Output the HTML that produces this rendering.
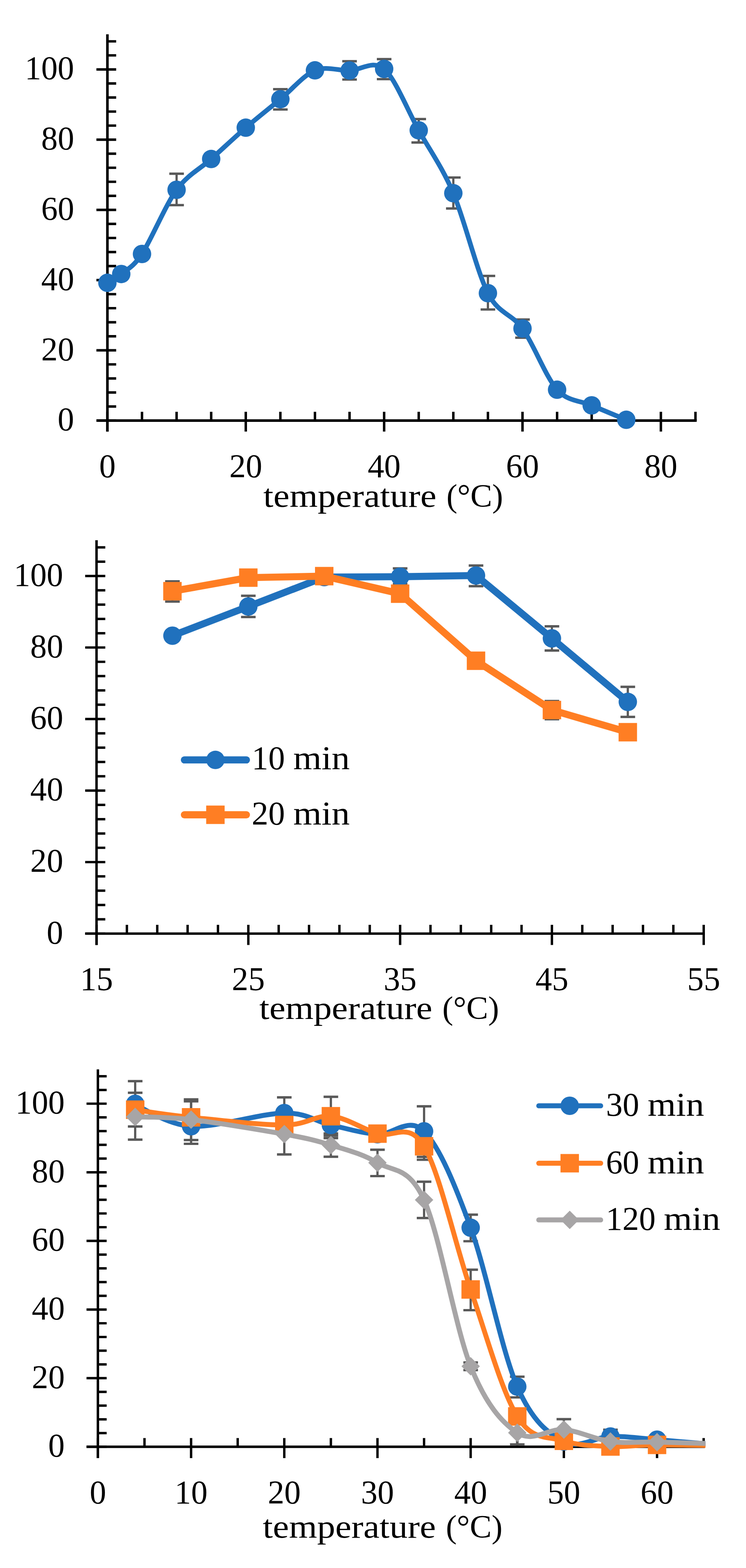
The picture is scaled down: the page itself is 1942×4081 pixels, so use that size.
<!DOCTYPE html>
<html lang="en">
<head>
<meta charset="utf-8">
<title>Temperature dependence charts</title>
<style>
html,body{margin:0;padding:0;background:#fff;}
body{width:1942px;height:4081px;overflow:hidden;}
svg{display:block;}
text{white-space:pre;}
</style>
</head>
<body>
<svg width="1942" height="4081" viewBox="0 0 1942 4081">
<rect width="1942" height="4081" fill="#fff"/>
<g id="chart1">
<g stroke="#000" fill="none" stroke-width="6.7">
<path d="M279.6,89.31 V1123.2"/>
<path d="M251,1094.6 H1813.65"/>
</g>
<g stroke="#000" fill="none" stroke-width="6.4">
<path d="M251,1094.6H302.4M279.6,1058.04H302.4M279.6,1021.49H302.4M279.6,984.93H302.4M279.6,948.38H302.4M251,911.82H302.4M279.6,875.26H302.4M279.6,838.71H302.4M279.6,802.15H302.4M279.6,765.6H302.4M251,729.04H302.4M279.6,692.48H302.4M279.6,655.93H302.4M279.6,619.37H302.4M279.6,582.82H302.4M251,546.26H302.4M279.6,509.7H302.4M279.6,473.15H302.4M279.6,436.59H302.4M279.6,400.04H302.4M251,363.48H302.4M279.6,326.92H302.4M279.6,290.37H302.4M279.6,253.81H302.4M279.6,217.26H302.4M251,180.7H302.4M279.6,144.14H302.4M279.6,107.59H302.4M279.6,1071.8V1123.2M369.65,1071.8V1094.6M459.7,1071.8V1094.6M549.75,1071.8V1094.6M639.8,1071.8V1123.2M729.85,1071.8V1094.6M819.9,1071.8V1094.6M909.95,1071.8V1094.6M1000,1071.8V1123.2M1090.05,1071.8V1094.6M1180.1,1071.8V1094.6M1270.15,1071.8V1094.6M1360.2,1071.8V1123.2M1450.25,1071.8V1094.6M1540.3,1071.8V1094.6M1630.35,1071.8V1094.6M1720.4,1071.8V1123.2M1810.45,1071.8V1094.6"/>
</g>
<g font-family='"Liberation Serif", serif' font-size="87.5" fill="#000">
<text x="193" y="1120.3" text-anchor="end" textLength="42.88" lengthAdjust="spacingAndGlyphs">0</text>
<text x="193" y="937.52" text-anchor="end" textLength="85.75" lengthAdjust="spacingAndGlyphs">20</text>
<text x="193" y="754.74" text-anchor="end" textLength="85.75" lengthAdjust="spacingAndGlyphs">40</text>
<text x="193" y="571.96" text-anchor="end" textLength="85.75" lengthAdjust="spacingAndGlyphs">60</text>
<text x="193" y="389.18" text-anchor="end" textLength="85.75" lengthAdjust="spacingAndGlyphs">80</text>
<text x="193" y="206.4" text-anchor="end" textLength="128.62" lengthAdjust="spacingAndGlyphs">100</text>
<text x="279.6" y="1241.8" text-anchor="middle" textLength="42.88" lengthAdjust="spacingAndGlyphs">0</text>
<text x="639.8" y="1241.8" text-anchor="middle" textLength="85.75" lengthAdjust="spacingAndGlyphs">20</text>
<text x="1000" y="1241.8" text-anchor="middle" textLength="85.75" lengthAdjust="spacingAndGlyphs">40</text>
<text x="1360.2" y="1241.8" text-anchor="middle" textLength="85.75" lengthAdjust="spacingAndGlyphs">60</text>
<text x="1720.4" y="1241.8" text-anchor="middle" textLength="85.75" lengthAdjust="spacingAndGlyphs">80</text>
<text y="1319" font-size="85"><tspan x="685.6" textLength="474" lengthAdjust="spacingAndGlyphs">temperature </tspan><tspan x="1162.2" textLength="147.5" lengthAdjust="spacingAndGlyphs">(°C)</tspan></text>
</g>
<path d="M459.7,452.2 V533.8" stroke="#595959" stroke-width="5.8" fill="none"/><path d="M440.7,452.2 H478.7 M440.7,533.8 H478.7" stroke="#595959" stroke-width="6.2" fill="none"/>
<path d="M729.85,232.1 V285" stroke="#595959" stroke-width="5.8" fill="none"/><path d="M710.85,232.1 H748.85 M710.85,285 H748.85" stroke="#595959" stroke-width="6.2" fill="none"/>
<path d="M909.95,159.3 V207" stroke="#595959" stroke-width="5.8" fill="none"/><path d="M890.95,159.3 H928.95 M890.95,207 H928.95" stroke="#595959" stroke-width="6.2" fill="none"/>
<path d="M1000,153.8 V206" stroke="#595959" stroke-width="5.8" fill="none"/><path d="M981,153.8 H1019 M981,206 H1019" stroke="#595959" stroke-width="6.2" fill="none"/>
<path d="M1090.05,309.8 V370.8" stroke="#595959" stroke-width="5.8" fill="none"/><path d="M1071.05,309.8 H1109.05 M1071.05,370.8 H1109.05" stroke="#595959" stroke-width="6.2" fill="none"/>
<path d="M1180.1,462 V542.6" stroke="#595959" stroke-width="5.8" fill="none"/><path d="M1161.1,462 H1199.1 M1161.1,542.6 H1199.1" stroke="#595959" stroke-width="6.2" fill="none"/>
<path d="M1270.15,718.1 V805.5" stroke="#595959" stroke-width="5.8" fill="none"/><path d="M1251.15,718.1 H1289.15 M1251.15,805.5 H1289.15" stroke="#595959" stroke-width="6.2" fill="none"/>
<path d="M1360.2,831.6 V878.9" stroke="#595959" stroke-width="5.8" fill="none"/><path d="M1341.2,831.6 H1379.2 M1341.2,878.9 H1379.2" stroke="#595959" stroke-width="6.2" fill="none"/>
<path d="M279.6,736.1C279.6,736.1 301.39,725.07 315.62,713.2C329.85,701.33 346.89,695.63 369.65,661C392.41,626.37 431.24,533.06 459.7,494C488.16,454.94 521.29,439.35 549.75,413.8C578.21,388.25 611.34,356.88 639.8,332.3C668.26,307.72 701.39,281.77 729.85,258.2C758.31,234.63 791.44,194.89 819.9,183.1C848.36,171.31 881.49,184.2 909.95,183.6C938.41,183 971.54,154.72 1000,179.3C1028.46,203.88 1061.59,288.09 1090.05,339.2C1118.51,390.31 1151.64,435.84 1180.1,502.8C1208.56,569.76 1241.69,707.35 1270.15,763C1298.61,818.65 1331.74,815.29 1360.2,855C1388.66,894.71 1421.79,982.7 1450.25,1014.3C1478.71,1045.9 1511.84,1042.63 1540.3,1055C1568.76,1067.37 1630.35,1092.6 1630.35,1092.6" stroke="#2071BD" stroke-width="12.3" fill="none" stroke-linejoin="round" stroke-linecap="round"/>
<circle cx="279.6" cy="736.1" r="24" fill="#2071BD"/>
<circle cx="315.62" cy="713.2" r="24" fill="#2071BD"/>
<circle cx="369.65" cy="661" r="24" fill="#2071BD"/>
<circle cx="459.7" cy="494" r="24" fill="#2071BD"/>
<circle cx="549.75" cy="413.8" r="24" fill="#2071BD"/>
<circle cx="639.8" cy="332.3" r="24" fill="#2071BD"/>
<circle cx="729.85" cy="258.2" r="24" fill="#2071BD"/>
<circle cx="819.9" cy="183.1" r="24" fill="#2071BD"/>
<circle cx="909.95" cy="183.6" r="24" fill="#2071BD"/>
<circle cx="1000" cy="179.3" r="24" fill="#2071BD"/>
<circle cx="1090.05" cy="339.2" r="24" fill="#2071BD"/>
<circle cx="1180.1" cy="502.8" r="24" fill="#2071BD"/>
<circle cx="1270.15" cy="763" r="24" fill="#2071BD"/>
<circle cx="1360.2" cy="855" r="24" fill="#2071BD"/>
<circle cx="1450.25" cy="1014.3" r="24" fill="#2071BD"/>
<circle cx="1540.3" cy="1055" r="24" fill="#2071BD"/>
<circle cx="1630.35" cy="1092.6" r="24" fill="#2071BD"/>
</g>
<g id="chart2">
<g stroke="#000" fill="none" stroke-width="6.4">
<path d="M251.3,1406.02 V2459.5"/>
<path d="M221.7,2429.9 H1835"/>
</g>
<g stroke="#000" fill="none" stroke-width="6.2">
<path d="M221.7,2429.9H274.1M251.3,2392.67H274.1M251.3,2355.44H274.1M251.3,2318.2H274.1M251.3,2280.97H274.1M221.7,2243.74H274.1M251.3,2206.51H274.1M251.3,2169.28H274.1M251.3,2132.04H274.1M251.3,2094.81H274.1M221.7,2057.58H274.1M251.3,2020.35H274.1M251.3,1983.12H274.1M251.3,1945.88H274.1M251.3,1908.65H274.1M221.7,1871.42H274.1M251.3,1834.19H274.1M251.3,1796.96H274.1M251.3,1759.72H274.1M251.3,1722.49H274.1M221.7,1685.26H274.1M251.3,1648.03H274.1M251.3,1610.8H274.1M251.3,1573.56H274.1M251.3,1536.33H274.1M221.7,1499.1H274.1M251.3,1461.87H274.1M251.3,1424.64H274.1M251.3,2407.1V2459.5M330.33,2407.1V2429.9M409.36,2407.1V2429.9M488.39,2407.1V2429.9M567.42,2407.1V2429.9M646.45,2407.1V2459.5M725.48,2407.1V2429.9M804.51,2407.1V2429.9M883.54,2407.1V2429.9M962.57,2407.1V2429.9M1041.6,2407.1V2459.5M1120.63,2407.1V2429.9M1199.66,2407.1V2429.9M1278.69,2407.1V2429.9M1357.72,2407.1V2429.9M1436.75,2407.1V2459.5M1515.78,2407.1V2429.9M1594.81,2407.1V2429.9M1673.84,2407.1V2429.9M1752.87,2407.1V2429.9M1831.9,2407.1V2459.5"/>
</g>
<g font-family='"Liberation Serif", serif' font-size="87.5" fill="#000">
<text x="164.5" y="2455.6" text-anchor="end" textLength="42.88" lengthAdjust="spacingAndGlyphs">0</text>
<text x="164.5" y="2269.44" text-anchor="end" textLength="85.75" lengthAdjust="spacingAndGlyphs">20</text>
<text x="164.5" y="2083.28" text-anchor="end" textLength="85.75" lengthAdjust="spacingAndGlyphs">40</text>
<text x="164.5" y="1897.12" text-anchor="end" textLength="85.75" lengthAdjust="spacingAndGlyphs">60</text>
<text x="164.5" y="1710.96" text-anchor="end" textLength="85.75" lengthAdjust="spacingAndGlyphs">80</text>
<text x="164.5" y="1524.8" text-anchor="end" textLength="128.62" lengthAdjust="spacingAndGlyphs">100</text>
<text x="251.3" y="2577.3" text-anchor="middle" textLength="85.75" lengthAdjust="spacingAndGlyphs">15</text>
<text x="646.45" y="2577.3" text-anchor="middle" textLength="85.75" lengthAdjust="spacingAndGlyphs">25</text>
<text x="1041.6" y="2577.3" text-anchor="middle" textLength="85.75" lengthAdjust="spacingAndGlyphs">35</text>
<text x="1436.75" y="2577.3" text-anchor="middle" textLength="85.75" lengthAdjust="spacingAndGlyphs">45</text>
<text x="1831.9" y="2577.3" text-anchor="middle" textLength="85.75" lengthAdjust="spacingAndGlyphs">55</text>
<text y="2652" font-size="85"><tspan x="675" textLength="474" lengthAdjust="spacingAndGlyphs">temperature </tspan><tspan x="1151.6" textLength="147.5" lengthAdjust="spacingAndGlyphs">(°C)</tspan></text>
</g>
<path d="M646.45,1550.7 V1605.9" stroke="#595959" stroke-width="5.8" fill="none"/><path d="M627.45,1550.7 H665.45 M627.45,1605.9 H665.45" stroke="#595959" stroke-width="6.2" fill="none"/>
<path d="M844.03,1485 V1519" stroke="#595959" stroke-width="5.8" fill="none"/><path d="M825.03,1485 H863.03 M825.03,1519 H863.03" stroke="#595959" stroke-width="6.2" fill="none"/>
<path d="M1041.6,1479.3 V1520" stroke="#595959" stroke-width="5.8" fill="none"/><path d="M1022.6,1479.3 H1060.6 M1022.6,1520 H1060.6" stroke="#595959" stroke-width="6.2" fill="none"/>
<path d="M1239.17,1471.8 V1525.6" stroke="#595959" stroke-width="5.8" fill="none"/><path d="M1220.17,1471.8 H1258.17 M1220.17,1525.6 H1258.17" stroke="#595959" stroke-width="6.2" fill="none"/>
<path d="M1436.75,1630.2 V1693.2" stroke="#595959" stroke-width="5.8" fill="none"/><path d="M1417.75,1630.2 H1455.75 M1417.75,1693.2 H1455.75" stroke="#595959" stroke-width="6.2" fill="none"/>
<path d="M1634.33,1787.6 V1865.9" stroke="#595959" stroke-width="5.8" fill="none"/><path d="M1615.33,1787.6 H1653.33 M1615.33,1865.9 H1653.33" stroke="#595959" stroke-width="6.2" fill="none"/>
<path d="M448.88,1513.2 V1565.7" stroke="#595959" stroke-width="5.8" fill="none"/><path d="M429.88,1513.2 H467.88 M429.88,1565.7 H467.88" stroke="#595959" stroke-width="6.2" fill="none"/>
<path d="M1436.75,1824.5 V1872" stroke="#595959" stroke-width="5.8" fill="none"/><path d="M1417.75,1824.5 H1455.75 M1417.75,1872 H1455.75" stroke="#595959" stroke-width="6.2" fill="none"/>
<path d="M448.88,1654.5L646.45,1578.5L844.03,1502L1041.6,1501L1239.17,1497.9L1436.75,1661.5L1634.33,1826.8" stroke="#2071BD" stroke-width="18.4" fill="none" stroke-linejoin="round" stroke-linecap="round"/>
<circle cx="448.88" cy="1654.5" r="24" fill="#2071BD"/>
<circle cx="646.45" cy="1578.5" r="24" fill="#2071BD"/>
<circle cx="844.03" cy="1502" r="24" fill="#2071BD"/>
<circle cx="1041.6" cy="1501" r="24" fill="#2071BD"/>
<circle cx="1239.17" cy="1497.9" r="24" fill="#2071BD"/>
<circle cx="1436.75" cy="1661.5" r="24" fill="#2071BD"/>
<circle cx="1634.33" cy="1826.8" r="24" fill="#2071BD"/>
<path d="M448.88,1538.7L646.45,1503.4L844.03,1499.5L1041.6,1545.2L1239.17,1719.7L1436.75,1848L1634.33,1905.7" stroke="#FF7E23" stroke-width="18.4" fill="none" stroke-linejoin="round" stroke-linecap="round"/>
<rect x="424.88" y="1514.7" width="48" height="48" fill="#FF7E23"/>
<rect x="622.45" y="1479.4" width="48" height="48" fill="#FF7E23"/>
<rect x="820.03" y="1475.5" width="48" height="48" fill="#FF7E23"/>
<rect x="1017.6" y="1521.2" width="48" height="48" fill="#FF7E23"/>
<rect x="1215.17" y="1695.7" width="48" height="48" fill="#FF7E23"/>
<rect x="1412.75" y="1824" width="48" height="48" fill="#FF7E23"/>
<rect x="1610.33" y="1881.7" width="48" height="48" fill="#FF7E23"/>
<path d="M480,1977.8 H641.5" stroke="#2071BD" stroke-width="18.6" stroke-linecap="round" fill="none"/><circle cx="560.75" cy="1977.8" r="24" fill="#2071BD"/><text y="2002" font-family='"Liberation Serif", serif' font-size="86.5"><tspan x="655.3">10 </tspan><tspan x="763.5" textLength="147" lengthAdjust="spacingAndGlyphs">min</tspan></text>
<path d="M480,2120.6 H641.5" stroke="#FF7E23" stroke-width="18.6" stroke-linecap="round" fill="none"/><rect x="536.75" y="2096.6" width="48" height="48" fill="#FF7E23"/><text y="2145.5" font-family='"Liberation Serif", serif' font-size="86.5"><tspan x="655.3">20 </tspan><tspan x="763.5" textLength="147" lengthAdjust="spacingAndGlyphs">min</tspan></text>
</g>
<g id="chart3">
<g stroke="#000" fill="none" stroke-width="6.4">
<path d="M254.85,2783.2 V3795.1"/>
<path d="M225.25,3765.5 H1834.85"/>
</g>
<g stroke="#000" fill="none" stroke-width="6.2">
<path d="M225.25,3765.5H277.65M254.85,3729.78H277.65M254.85,3694.06H277.65M254.85,3658.34H277.65M254.85,3622.62H277.65M225.25,3586.9H277.65M254.85,3551.18H277.65M254.85,3515.46H277.65M254.85,3479.74H277.65M254.85,3444.02H277.65M225.25,3408.3H277.65M254.85,3372.58H277.65M254.85,3336.86H277.65M254.85,3301.14H277.65M254.85,3265.42H277.65M225.25,3229.7H277.65M254.85,3193.98H277.65M254.85,3158.26H277.65M254.85,3122.54H277.65M254.85,3086.82H277.65M225.25,3051.1H277.65M254.85,3015.38H277.65M254.85,2979.66H277.65M254.85,2943.94H277.65M254.85,2908.22H277.65M225.25,2872.5H277.65M254.85,2836.78H277.65M254.85,2801.06H277.65M254.85,3742.7V3795.1M376.15,3742.7V3765.5M497.45,3742.7V3795.1M618.75,3742.7V3765.5M740.05,3742.7V3795.1M861.35,3742.7V3765.5M982.65,3742.7V3795.1M1103.95,3742.7V3765.5M1225.25,3742.7V3795.1M1346.55,3742.7V3765.5M1467.85,3742.7V3795.1M1589.15,3742.7V3765.5M1710.45,3742.7V3795.1M1831.75,3742.7V3765.5"/>
</g>
<g font-family='"Liberation Serif", serif' font-size="87.5" fill="#000">
<text x="168.5" y="3791.2" text-anchor="end" textLength="42.88" lengthAdjust="spacingAndGlyphs">0</text>
<text x="168.5" y="3612.6" text-anchor="end" textLength="85.75" lengthAdjust="spacingAndGlyphs">20</text>
<text x="168.5" y="3434" text-anchor="end" textLength="85.75" lengthAdjust="spacingAndGlyphs">40</text>
<text x="168.5" y="3255.4" text-anchor="end" textLength="85.75" lengthAdjust="spacingAndGlyphs">60</text>
<text x="168.5" y="3076.8" text-anchor="end" textLength="85.75" lengthAdjust="spacingAndGlyphs">80</text>
<text x="168.5" y="2898.2" text-anchor="end" textLength="128.62" lengthAdjust="spacingAndGlyphs">100</text>
<text x="254.85" y="3912.6" text-anchor="middle" textLength="42.88" lengthAdjust="spacingAndGlyphs">0</text>
<text x="497.45" y="3912.6" text-anchor="middle" textLength="85.75" lengthAdjust="spacingAndGlyphs">10</text>
<text x="740.05" y="3912.6" text-anchor="middle" textLength="85.75" lengthAdjust="spacingAndGlyphs">20</text>
<text x="982.65" y="3912.6" text-anchor="middle" textLength="85.75" lengthAdjust="spacingAndGlyphs">30</text>
<text x="1225.25" y="3912.6" text-anchor="middle" textLength="85.75" lengthAdjust="spacingAndGlyphs">40</text>
<text x="1467.85" y="3912.6" text-anchor="middle" textLength="85.75" lengthAdjust="spacingAndGlyphs">50</text>
<text x="1710.45" y="3912.6" text-anchor="middle" textLength="85.75" lengthAdjust="spacingAndGlyphs">60</text>
<text y="4002.4" font-size="85"><tspan x="684.1" textLength="474" lengthAdjust="spacingAndGlyphs">temperature </tspan><tspan x="1160.7" textLength="147.5" lengthAdjust="spacingAndGlyphs">(°C)</tspan></text>
</g>
<clipPath id="clip3"><rect x="240" y="2700" width="1596.5" height="1200"/></clipPath>
<path d="M351.89,2813.8 V2931.9" stroke="#595959" stroke-width="5.8" fill="none"/><path d="M332.89,2813.8 H370.89 M332.89,2931.9 H370.89" stroke="#595959" stroke-width="6.2" fill="none"/>
<path d="M351.89,2844.2 V2966.2" stroke="#595959" stroke-width="5.8" fill="none"/><path d="M332.89,2844.2 H370.89 M332.89,2966.2 H370.89" stroke="#595959" stroke-width="6.2" fill="none"/>
<path d="M497.45,2861.3 V2977" stroke="#595959" stroke-width="5.8" fill="none"/><path d="M478.45,2861.3 H516.45 M478.45,2977 H516.45" stroke="#595959" stroke-width="6.2" fill="none"/>
<path d="M497.45,2866.3 V2967.2" stroke="#595959" stroke-width="5.8" fill="none"/><path d="M478.45,2866.3 H516.45 M478.45,2967.2 H516.45" stroke="#595959" stroke-width="6.2" fill="none"/>
<path d="M740.05,2856.2 V2940" stroke="#595959" stroke-width="5.8" fill="none"/><path d="M721.05,2856.2 H759.05 M721.05,2940 H759.05" stroke="#595959" stroke-width="6.2" fill="none"/>
<path d="M740.05,2900 V3004.7" stroke="#595959" stroke-width="5.8" fill="none"/><path d="M721.05,2900 H759.05 M721.05,3004.7 H759.05" stroke="#595959" stroke-width="6.2" fill="none"/>
<path d="M861.35,2854.6 V2955.7" stroke="#595959" stroke-width="5.8" fill="none"/><path d="M842.35,2854.6 H880.35 M842.35,2955.7 H880.35" stroke="#595959" stroke-width="6.2" fill="none"/>
<path d="M861.35,2900 V2962.2" stroke="#595959" stroke-width="5.8" fill="none"/><path d="M842.35,2900 H880.35 M842.35,2962.2 H880.35" stroke="#595959" stroke-width="6.2" fill="none"/>
<path d="M861.35,2950 V3010.6" stroke="#595959" stroke-width="5.8" fill="none"/><path d="M842.35,2950 H880.35 M842.35,3010.6 H880.35" stroke="#595959" stroke-width="6.2" fill="none"/>
<path d="M982.65,2992.4 V3061" stroke="#595959" stroke-width="5.8" fill="none"/><path d="M963.65,2992.4 H1001.65 M963.65,3061 H1001.65" stroke="#595959" stroke-width="6.2" fill="none"/>
<path d="M1103.95,2879.3 V3011" stroke="#595959" stroke-width="5.8" fill="none"/><path d="M1084.95,2879.3 H1122.95 M1084.95,3011 H1122.95" stroke="#595959" stroke-width="6.2" fill="none"/>
<path d="M1103.95,2960 V3018.5" stroke="#595959" stroke-width="5.8" fill="none"/><path d="M1084.95,2960 H1122.95 M1084.95,3018.5 H1122.95" stroke="#595959" stroke-width="6.2" fill="none"/>
<path d="M1103.95,3075.7 V3170.2" stroke="#595959" stroke-width="5.8" fill="none"/><path d="M1084.95,3075.7 H1122.95 M1084.95,3170.2 H1122.95" stroke="#595959" stroke-width="6.2" fill="none"/>
<path d="M1225.25,3161.3 V3230.5" stroke="#595959" stroke-width="5.8" fill="none"/><path d="M1206.25,3161.3 H1244.25 M1206.25,3230.5 H1244.25" stroke="#595959" stroke-width="6.2" fill="none"/>
<path d="M1225.25,3304.6 V3410" stroke="#595959" stroke-width="5.8" fill="none"/><path d="M1206.25,3304.6 H1244.25 M1206.25,3410 H1244.25" stroke="#595959" stroke-width="6.2" fill="none"/>
<path d="M1225.25,3546 V3566" stroke="#595959" stroke-width="5.8" fill="none"/><path d="M1206.25,3546 H1244.25 M1206.25,3566 H1244.25" stroke="#595959" stroke-width="6.2" fill="none"/>
<path d="M1346.55,3583.1 V3637" stroke="#595959" stroke-width="5.8" fill="none"/><path d="M1327.55,3583.1 H1365.55 M1327.55,3637 H1365.55" stroke="#595959" stroke-width="6.2" fill="none"/>
<path d="M1346.55,3700 V3759.3" stroke="#595959" stroke-width="5.8" fill="none"/><path d="M1327.55,3700 H1365.55 M1327.55,3759.3 H1365.55" stroke="#595959" stroke-width="6.2" fill="none"/>
<path d="M1467.85,3693.7 V3748" stroke="#595959" stroke-width="5.8" fill="none"/><path d="M1448.85,3693.7 H1486.85 M1448.85,3748 H1486.85" stroke="#595959" stroke-width="6.2" fill="none"/>
<path d="M1589.15,3721 V3760" stroke="#595959" stroke-width="5.8" fill="none"/><path d="M1570.15,3721 H1608.15 M1570.15,3760 H1608.15" stroke="#595959" stroke-width="6.2" fill="none"/>
<path clip-path="url(#clip3)" d="M351.89,2872.9C351.89,2872.9 432.76,2927.28 497.45,2931.3C562.14,2935.32 679.4,2897.55 740.05,2897C800.7,2896.45 820.92,2918.83 861.35,2928C901.78,2937.17 942.22,2949.25 982.65,2952C1023.08,2954.75 1063.52,2903.95 1103.95,2944.5C1144.38,2985.05 1184.82,3084.57 1225.25,3195.3C1265.68,3306.03 1306.12,3516.15 1346.55,3608.9C1386.98,3701.65 1427.42,3730.17 1467.85,3751.8C1508.28,3773.43 1548.72,3739.52 1589.15,3738.7C1629.58,3737.88 1649.8,3742.02 1710.45,3746.9C1771.1,3751.78 1953.05,3768 1953.05,3768" stroke="#2071BD" stroke-width="12.8" fill="none" stroke-linejoin="round"/>
<circle cx="351.89" cy="2872.9" r="24" fill="#2071BD"/>
<circle cx="497.45" cy="2931.3" r="24" fill="#2071BD"/>
<circle cx="740.05" cy="2897" r="24" fill="#2071BD"/>
<circle cx="861.35" cy="2928" r="24" fill="#2071BD"/>
<circle cx="982.65" cy="2952" r="24" fill="#2071BD"/>
<circle cx="1103.95" cy="2944.5" r="24" fill="#2071BD"/>
<circle cx="1225.25" cy="3195.3" r="24" fill="#2071BD"/>
<circle cx="1346.55" cy="3608.9" r="24" fill="#2071BD"/>
<circle cx="1467.85" cy="3751.8" r="24" fill="#2071BD"/>
<circle cx="1589.15" cy="3738.7" r="24" fill="#2071BD"/>
<circle cx="1710.45" cy="3746.9" r="24" fill="#2071BD"/>
<path clip-path="url(#clip3)" d="M351.89,2888.2C351.89,2888.2 432.76,2901.37 497.45,2908C562.14,2914.63 679.4,2928.47 740.05,2928C800.7,2927.53 820.92,2901.45 861.35,2905.2C901.78,2908.95 942.22,2937.47 982.65,2950.5C1023.08,2963.53 1063.52,2915.8 1103.95,2983.4C1144.38,3051 1184.82,3238.92 1225.25,3356.1C1265.68,3473.28 1306.12,3620.85 1346.55,3686.5C1386.98,3752.15 1427.42,3736.95 1467.85,3750C1508.28,3763.05 1548.72,3763.03 1589.15,3764.8C1629.58,3766.57 1649.8,3760.73 1710.45,3760.6C1771.1,3760.47 1953.05,3764 1953.05,3764" stroke="#FF7E23" stroke-width="12.8" fill="none" stroke-linejoin="round"/>
<rect x="327.89" y="2864.2" width="48" height="48" fill="#FF7E23"/>
<rect x="473.45" y="2884" width="48" height="48" fill="#FF7E23"/>
<rect x="716.05" y="2904" width="48" height="48" fill="#FF7E23"/>
<rect x="837.35" y="2881.2" width="48" height="48" fill="#FF7E23"/>
<rect x="958.65" y="2926.5" width="48" height="48" fill="#FF7E23"/>
<rect x="1079.95" y="2959.4" width="48" height="48" fill="#FF7E23"/>
<rect x="1201.25" y="3332.1" width="48" height="48" fill="#FF7E23"/>
<rect x="1322.55" y="3662.5" width="48" height="48" fill="#FF7E23"/>
<rect x="1443.85" y="3726" width="48" height="48" fill="#FF7E23"/>
<rect x="1565.15" y="3740.8" width="48" height="48" fill="#FF7E23"/>
<rect x="1686.45" y="3736.6" width="48" height="48" fill="#FF7E23"/>
<path clip-path="url(#clip3)" d="M351.89,2907C351.89,2907 432.76,2906.53 497.45,2914C562.14,2921.47 679.4,2940.77 740.05,2951.8C800.7,2962.83 820.92,2967.78 861.35,2980.2C901.78,2992.62 942.22,3002.5 982.65,3026.3C1023.08,3050.1 1063.52,3034.72 1103.95,3123C1144.38,3211.28 1184.82,3455 1225.25,3556C1265.68,3657 1306.12,3701.53 1346.55,3729C1386.98,3756.47 1427.42,3717 1467.85,3720.8C1508.28,3724.6 1548.72,3746.37 1589.15,3751.8C1629.58,3757.23 1649.8,3752.03 1710.45,3753.4C1771.1,3754.77 1953.05,3760 1953.05,3760" stroke="#A7A5A6" stroke-width="12.8" fill="none" stroke-linejoin="round"/>
<path d="M351.89,2883 L375.89,2907 L351.89,2931 L327.89,2907 Z" fill="#A7A5A6"/>
<path d="M497.45,2890 L521.45,2914 L497.45,2938 L473.45,2914 Z" fill="#A7A5A6"/>
<path d="M740.05,2927.8 L764.05,2951.8 L740.05,2975.8 L716.05,2951.8 Z" fill="#A7A5A6"/>
<path d="M861.35,2956.2 L885.35,2980.2 L861.35,3004.2 L837.35,2980.2 Z" fill="#A7A5A6"/>
<path d="M982.65,3002.3 L1006.65,3026.3 L982.65,3050.3 L958.65,3026.3 Z" fill="#A7A5A6"/>
<path d="M1103.95,3099 L1127.95,3123 L1103.95,3147 L1079.95,3123 Z" fill="#A7A5A6"/>
<path d="M1225.25,3532 L1249.25,3556 L1225.25,3580 L1201.25,3556 Z" fill="#A7A5A6"/>
<path d="M1346.55,3705 L1370.55,3729 L1346.55,3753 L1322.55,3729 Z" fill="#A7A5A6"/>
<path d="M1467.85,3696.8 L1491.85,3720.8 L1467.85,3744.8 L1443.85,3720.8 Z" fill="#A7A5A6"/>
<path d="M1589.15,3727.8 L1613.15,3751.8 L1589.15,3775.8 L1565.15,3751.8 Z" fill="#A7A5A6"/>
<path d="M1710.45,3729.4 L1734.45,3753.4 L1710.45,3777.4 L1686.45,3753.4 Z" fill="#A7A5A6"/>
<path d="M1402.6,2878 H1563.6" stroke="#2071BD" stroke-width="13.2" stroke-linecap="round" fill="none"/><circle cx="1483.1" cy="2878" r="24" fill="#2071BD"/><text y="2904" font-family='"Liberation Serif", serif' font-size="86.5"><tspan x="1577.5">30 </tspan><tspan x="1686" textLength="147" lengthAdjust="spacingAndGlyphs">min</tspan></text>
<path d="M1402.6,3027.5 H1563.6" stroke="#FF7E23" stroke-width="13.2" stroke-linecap="round" fill="none"/><rect x="1459.1" y="3003.5" width="48" height="48" fill="#FF7E23"/><text y="3053.5" font-family='"Liberation Serif", serif' font-size="86.5"><tspan x="1577.5">60 </tspan><tspan x="1686" textLength="147" lengthAdjust="spacingAndGlyphs">min</tspan></text>
<path d="M1402.6,3175 H1563.6" stroke="#A7A5A6" stroke-width="13.2" stroke-linecap="round" fill="none"/><path d="M1483.1,3151 L1507.1,3175 L1483.1,3199 L1459.1,3175 Z" fill="#A7A5A6"/><text y="3200.5" font-family='"Liberation Serif", serif' font-size="86.5"><tspan x="1577">120 </tspan><tspan x="1728" textLength="147" lengthAdjust="spacingAndGlyphs">min</tspan></text>
</g>
</svg>
</body>
</html>
